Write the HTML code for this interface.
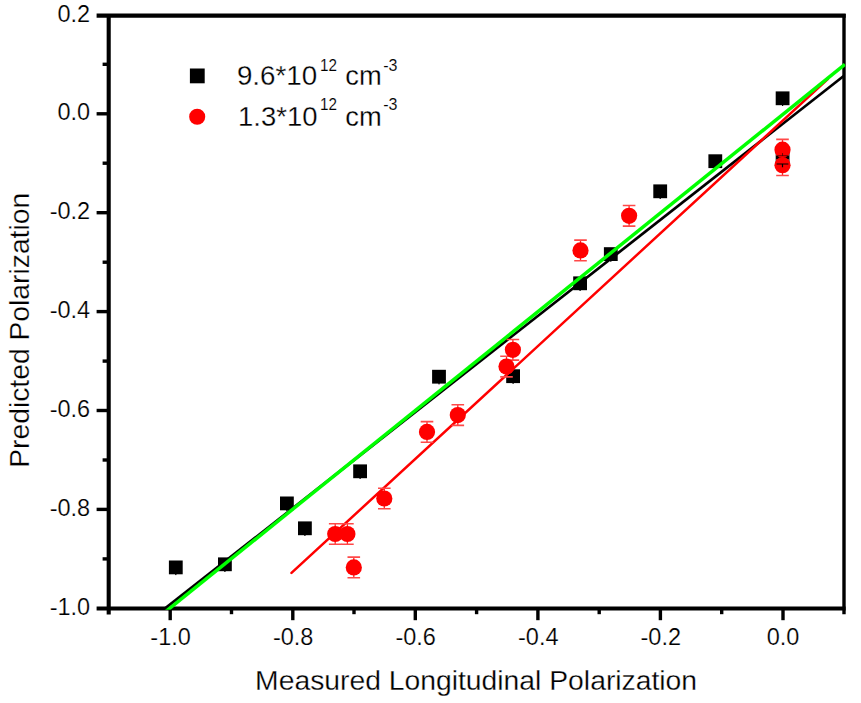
<!DOCTYPE html>
<html><head><meta charset="utf-8"><title>chart</title>
<style>
html,body{margin:0;padding:0;background:#fff;}
body{width:861px;height:703px;overflow:hidden;font-family:"Liberation Sans",sans-serif;}
svg{display:block;position:absolute;left:0;top:0;}
text{font-family:"Liberation Sans",sans-serif;fill:#000;stroke:#fff;stroke-width:0.28px;}
.tk text{stroke-width:0.2px;}
text.sup{stroke-width:0.12px;}
</style></head><body>
<svg width="861" height="703" viewBox="0 0 861 703">
<rect x="0" y="0" width="861" height="703" fill="#fff"/>
<defs><clipPath id="cp"><rect x="100" y="10" width="745.4" height="599.8"/></clipPath></defs>

<g stroke="#000" fill="none" stroke-linecap="butt">
<line x1="96.6" y1="15.6" x2="845.7" y2="15.6" stroke-width="4.1"/>
<line x1="96.6" y1="608.5" x2="845.6" y2="608.5" stroke-width="4.1"/>
<line x1="108.7" y1="15.6" x2="108.7" y2="614.4" stroke-width="4.1"/>
<line x1="844.0" y1="14.1" x2="844.0" y2="614.2" stroke-width="3.4"/>
<line x1="96.6" y1="113.8" x2="108.7" y2="113.8" stroke-width="3.4"/>
<line x1="96.6" y1="212.7" x2="108.7" y2="212.7" stroke-width="3.4"/>
<line x1="96.6" y1="311.6" x2="108.7" y2="311.6" stroke-width="3.4"/>
<line x1="96.6" y1="410.5" x2="108.7" y2="410.5" stroke-width="3.4"/>
<line x1="96.6" y1="509.4" x2="108.7" y2="509.4" stroke-width="3.4"/>
<line x1="102.6" y1="64.3" x2="108.7" y2="64.3" stroke-width="3.4"/>
<line x1="102.6" y1="163.2" x2="108.7" y2="163.2" stroke-width="3.4"/>
<line x1="102.6" y1="262.2" x2="108.7" y2="262.2" stroke-width="3.4"/>
<line x1="102.6" y1="361.1" x2="108.7" y2="361.1" stroke-width="3.4"/>
<line x1="102.6" y1="460.0" x2="108.7" y2="460.0" stroke-width="3.4"/>
<line x1="102.6" y1="558.9" x2="108.7" y2="558.9" stroke-width="3.4"/>
<line x1="170.2" y1="608.5" x2="170.2" y2="620.2" stroke-width="3.4"/>
<line x1="292.8" y1="608.5" x2="292.8" y2="620.2" stroke-width="3.4"/>
<line x1="415.3" y1="608.5" x2="415.3" y2="620.2" stroke-width="3.4"/>
<line x1="537.9" y1="608.5" x2="537.9" y2="620.2" stroke-width="3.4"/>
<line x1="660.4" y1="608.5" x2="660.4" y2="620.2" stroke-width="3.4"/>
<line x1="783.0" y1="608.5" x2="783.0" y2="620.2" stroke-width="3.4"/>
<line x1="231.5" y1="608.5" x2="231.5" y2="614.2" stroke-width="3.4"/>
<line x1="354.0" y1="608.5" x2="354.0" y2="614.2" stroke-width="3.4"/>
<line x1="476.6" y1="608.5" x2="476.6" y2="614.2" stroke-width="3.4"/>
<line x1="599.2" y1="608.5" x2="599.2" y2="614.2" stroke-width="3.4"/>
<line x1="721.7" y1="608.5" x2="721.7" y2="614.2" stroke-width="3.4"/>
</g>
<g fill="#000">
<rect x="168.9" y="560.5" width="13.8" height="13.8"/>
<rect x="175.2" y="567.4" width="1.2" height="7.7"/>
<rect x="218.0" y="557.4" width="13.8" height="13.8"/>
<rect x="224.3" y="564.3" width="1.2" height="7.7"/>
<rect x="280.0" y="496.5" width="13.8" height="13.8"/>
<rect x="286.3" y="503.4" width="1.2" height="7.7"/>
<rect x="298.0" y="521.4" width="13.8" height="13.8"/>
<rect x="304.3" y="528.3" width="1.2" height="7.7"/>
<rect x="353.2" y="464.4" width="13.8" height="13.8"/>
<rect x="359.5" y="471.3" width="1.2" height="7.7"/>
<rect x="432.1" y="369.8" width="13.8" height="13.8"/>
<rect x="438.4" y="376.7" width="1.2" height="7.7"/>
<rect x="506.2" y="369.3" width="13.8" height="13.8"/>
<rect x="512.5" y="376.2" width="1.2" height="7.7"/>
<rect x="573.2" y="276.4" width="13.8" height="13.8"/>
<rect x="579.5" y="283.3" width="1.2" height="7.7"/>
<rect x="603.9" y="247.2" width="13.8" height="13.8"/>
<rect x="610.2" y="254.1" width="1.2" height="7.7"/>
<rect x="653.3" y="184.4" width="13.8" height="13.8"/>
<rect x="659.6" y="191.3" width="1.2" height="7.7"/>
<rect x="708.4" y="154.3" width="13.8" height="13.8"/>
<rect x="714.7" y="161.2" width="1.2" height="7.7"/>
<rect x="775.7" y="91.4" width="13.8" height="13.8"/>
<rect x="782.0" y="98.3" width="1.2" height="7.7"/>
<rect x="775.7" y="153.0" width="13.8" height="13.8"/>
<rect x="782.0" y="159.9" width="1.2" height="7.7"/>
</g>
<g clip-path="url(#cp)" fill="none" stroke-linecap="butt">
<line x1="164.8" y1="608.6" x2="844" y2="75.8" stroke="#000" stroke-width="2.7"/>
<line x1="291.5" y1="572.9" x2="827.8" y2="79.2" stroke="#f00" stroke-width="2.5" stroke-linecap="round"/>
<line x1="108.9" y1="657.3" x2="844.9" y2="64.4" stroke="#00ff00" stroke-width="3.45"/>
</g>
<g stroke="#ff2020" stroke-width="1.3" fill="none">
<path d="M335.2 523.7V544.3"/>
<path stroke="#ff4848" stroke-width="1.6" d="M328.9 523.7h12.6M328.9 544.3h12.6"/>
<path d="M347.4 523.7V544.3"/>
<path stroke="#ff4848" stroke-width="1.6" d="M341.1 523.7h12.6M341.1 544.3h12.6"/>
<path d="M353.8 557.1V577.7"/>
<path stroke="#ff4848" stroke-width="1.6" d="M347.5 557.1h12.6M347.5 577.7h12.6"/>
<path d="M384.3 488.2V508.8"/>
<path stroke="#ff4848" stroke-width="1.6" d="M378.0 488.2h12.6M378.0 508.8h12.6"/>
<path d="M427.0 421.6V442.2"/>
<path stroke="#ff4848" stroke-width="1.6" d="M420.7 421.6h12.6M420.7 442.2h12.6"/>
<path d="M457.8 404.8V425.4"/>
<path stroke="#ff4848" stroke-width="1.6" d="M451.5 404.8h12.6M451.5 425.4h12.6"/>
<path d="M506.5 356.3V376.9"/>
<path stroke="#ff4848" stroke-width="1.6" d="M500.2 356.3h12.6M500.2 376.9h12.6"/>
<path d="M512.9 339.5V360.1"/>
<path stroke="#ff4848" stroke-width="1.6" d="M506.6 339.5h12.6M506.6 360.1h12.6"/>
<path d="M580.5 240.1V260.7"/>
<path stroke="#ff4848" stroke-width="1.6" d="M574.2 240.1h12.6M574.2 260.7h12.6"/>
<path d="M629.1 205.5V226.1"/>
<path stroke="#ff4848" stroke-width="1.6" d="M622.8 205.5h12.6M622.8 226.1h12.6"/>
<path d="M782.5 139.4V160.0"/>
<path stroke="#ff4848" stroke-width="1.6" d="M776.2 139.4h12.6M776.2 160.0h12.6"/>
<path d="M782.5 154.9V175.5"/>
<path stroke="#ff4848" stroke-width="1.6" d="M776.2 154.9h12.6M776.2 175.5h12.6"/>
</g>
<g fill="#f00">
<circle cx="335.2" cy="534.0" r="8.1"/>
<circle cx="347.4" cy="534.0" r="8.1"/>
<circle cx="353.8" cy="567.4" r="8.1"/>
<circle cx="384.3" cy="498.5" r="8.1"/>
<circle cx="427.0" cy="431.9" r="8.1"/>
<circle cx="457.8" cy="415.1" r="8.1"/>
<circle cx="506.5" cy="366.6" r="8.1"/>
<circle cx="512.9" cy="349.8" r="8.1"/>
<circle cx="580.5" cy="250.4" r="8.1"/>
<circle cx="629.1" cy="215.8" r="8.1"/>
<circle cx="782.5" cy="149.7" r="8.1"/>
<circle cx="782.5" cy="165.2" r="8.1"/>
</g>
<g stroke="#000" fill="none"><path d="M776.6 164h11.8M782.5 164v3.2" stroke-width="1.2"/><path d="M776.6 155.7h11.8M782.5 153.1v2.6" stroke-width="1" stroke-opacity="0.55"/></g>
<g class="tk" font-size="23.5px">
<text x="90.2" y="22.2" text-anchor="end">0.2</text>
<text x="90.2" y="120.4" text-anchor="end">0.0</text>
<text x="90.2" y="219.3" text-anchor="end">-0.2</text>
<text x="90.2" y="318.2" text-anchor="end">-0.4</text>
<text x="90.2" y="417.1" text-anchor="end">-0.6</text>
<text x="90.2" y="516.0" text-anchor="end">-0.8</text>
<text x="90.2" y="615.1" text-anchor="end">-1.0</text>
<text x="170.6" y="645.2" text-anchor="middle">-1.0</text>
<text x="293.2" y="645.2" text-anchor="middle">-0.8</text>
<text x="415.7" y="645.2" text-anchor="middle">-0.6</text>
<text x="538.3" y="645.2" text-anchor="middle">-0.4</text>
<text x="660.8" y="645.2" text-anchor="middle">-0.2</text>
<text x="783.0" y="645.2" text-anchor="middle">0.0</text>
</g>
<text x="476.1" y="690.0" font-size="28.4px" text-anchor="middle" textLength="442" lengthAdjust="spacingAndGlyphs">Measured Longitudinal Polarization</text>
<text transform="translate(29.4 330.3) rotate(-90)" font-size="28px" text-anchor="middle" textLength="275" lengthAdjust="spacingAndGlyphs">Predicted Polarization</text>
<rect x="189.9" y="68.5" width="14.8" height="14.8" fill="#000"/>
<circle cx="197.2" cy="116.8" r="8.05" fill="#f00"/>
<text x="236.9" y="85.1" font-size="28.4px" textLength="80.3" lengthAdjust="spacingAndGlyphs">9.6*10</text>
<text x="320.0" class="sup" y="70.9" font-size="16px" textLength="17.0" lengthAdjust="spacingAndGlyphs">12</text>
<text x="345.3" y="85.1" font-size="28.4px" textLength="36.4" lengthAdjust="spacingAndGlyphs">cm</text>
<text x="383.2" class="sup" y="70.9" font-size="16px">-3</text>
<text x="238.1" y="126.2" font-size="28.4px" textLength="79.3" lengthAdjust="spacingAndGlyphs">1.3*10</text>
<text x="320.0" class="sup" y="110.3" font-size="16px" textLength="17.0" lengthAdjust="spacingAndGlyphs">12</text>
<text x="345.3" y="126.2" font-size="28.4px" textLength="36.4" lengthAdjust="spacingAndGlyphs">cm</text>
<text x="383.2" class="sup" y="110.3" font-size="16px">-3</text>
</svg></body></html>
